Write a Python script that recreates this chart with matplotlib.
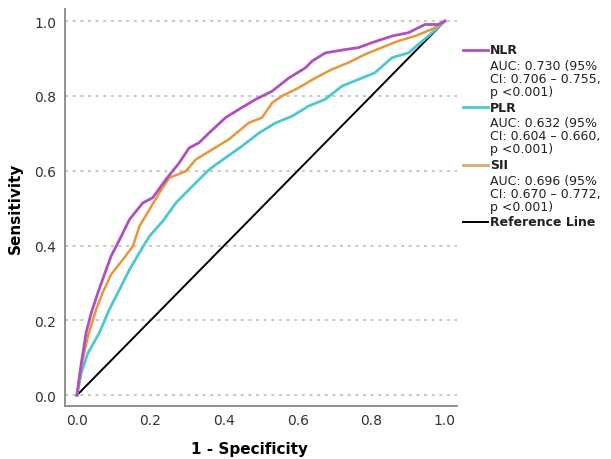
import matplotlib
matplotlib.use("Agg")
import matplotlib.pyplot as plt
from matplotlib.lines import Line2D

# ROC krivky (1 - specificita, senzitivita)
nlr_x = [0, 0.012, 0.025, 0.039, 0.057, 0.07, 0.093, 0.116, 0.143, 0.179, 0.206, 0.242, 0.278,
         0.305, 0.332, 0.359, 0.404, 0.44, 0.486, 0.531, 0.576, 0.621, 0.639, 0.675, 0.729,
         0.765, 0.801, 0.856, 0.901, 0.946, 0.982, 1.0]
nlr_y = [0, 0.086, 0.167, 0.22, 0.274, 0.31, 0.372, 0.416, 0.47, 0.514, 0.528, 0.577, 0.621,
         0.661, 0.675, 0.701, 0.742, 0.764, 0.791, 0.813, 0.848, 0.875, 0.893, 0.915, 0.924,
         0.929, 0.942, 0.96, 0.969, 0.991, 0.991, 1.0]

plr_x = [0, 0.012, 0.03, 0.061, 0.088, 0.116, 0.143, 0.17, 0.197, 0.233, 0.269, 0.314, 0.359,
         0.404, 0.449, 0.495, 0.54, 0.585, 0.63, 0.675, 0.72, 0.765, 0.81, 0.856, 0.901,
         0.928, 0.955, 1.0]
plr_y = [0, 0.06, 0.113, 0.167, 0.229, 0.283, 0.336, 0.381, 0.425, 0.465, 0.514, 0.559, 0.603,
         0.635, 0.666, 0.701, 0.728, 0.746, 0.773, 0.791, 0.826, 0.844, 0.862, 0.902, 0.915,
         0.938, 0.96, 1.0]

sii_x = [0, 0.012, 0.03, 0.052, 0.07, 0.093, 0.125, 0.152, 0.17, 0.197, 0.224, 0.251, 0.296,
         0.323, 0.368, 0.413, 0.467, 0.503, 0.531, 0.558, 0.603, 0.648, 0.693, 0.738, 0.783,
         0.838, 0.874, 0.919, 0.964, 1.0]
sii_y = [0, 0.078, 0.158, 0.229, 0.274, 0.323, 0.363, 0.398, 0.452, 0.496, 0.541, 0.581, 0.599,
         0.63, 0.657, 0.684, 0.728, 0.742, 0.782, 0.8, 0.822, 0.848, 0.871, 0.889, 0.911,
         0.933, 0.947, 0.96, 0.978, 1.0]

ref_x = [0, 1]
ref_y = [0, 1]

nazvy = ["NLR", "PLR", "SII"]
popisky = [["AUC: 0.730 (95%", "CI: 0.706 – 0.755,", "p <0.001)"],
           ["AUC: 0.632 (95%", "CI: 0.604 – 0.660,", "p <0.001)"],
           ["AUC: 0.696 (95%", "CI: 0.670 – 0.772,", "p <0.001)"]]
barvy = ["#b04fc0", "#4cc8d2", "#e8963a"]
barvy_leg = ["#b04fc0", "#4cc8d2", "#d8ad6a"]
tick_vals = [0.0, 0.2, 0.4, 0.6, 0.8, 1.0]

fig = plt.figure(figsize=(6.11, 4.6), dpi=100)
ax = fig.add_axes([0.106, 0.115, 0.642, 0.863])

for y in tick_vals:
    ax.axhline(y, color="#b8b8b8", lw=1.1, ls=(0, (2, 3)), zorder=0)

ax.plot(ref_x, ref_y, color="black", lw=1.4, zorder=2)
ax.plot(plr_x, plr_y, color=barvy[1], lw=2, zorder=3)
ax.plot(sii_x, sii_y, color=barvy[2], lw=1.8, zorder=4)
ax.plot(nlr_x, nlr_y, color=barvy[0], lw=2, zorder=5)

ax.set_xlim(-0.033, 1.033)
ax.set_ylim(-0.029, 1.032)
ax.set_xticks(tick_vals)
ax.set_yticks(tick_vals)
ax.set_xticklabels([f"{v:.1f}" for v in tick_vals])
ax.set_yticklabels([f"{v:.1f}" for v in tick_vals])
ax.tick_params(length=0, labelsize=10, colors="#333333")
ax.tick_params(axis="x", pad=5)
ax.tick_params(axis="y", pad=6)
for s in ["top", "right"]:
    ax.spines[s].set_visible(False)
for s in ["left", "bottom"]:
    ax.spines[s].set_color("#888888")
    ax.spines[s].set_linewidth(1.3)

ax.set_xlabel("1 - Specificity", fontsize=11, fontweight="bold", va="center")
ax.set_ylabel("Sensitivity", fontsize=11, fontweight="bold", va="center")
ax.xaxis.set_label_coords(0.47, -0.108)
ax.yaxis.set_label_coords(-0.125, 0.5)

# legenda vpravo - rucne, aby cara byla u prvniho radku
px = 1 / 460
leg_font = dict(fontsize=9, color="#222222", va="center")
odsazeni = [15.5, 28.5, 41.5]
for i in range(3):
    yy = 1 - (51 + 57.3 * i) * px
    fig.add_artist(Line2D([0.758, 0.799], [yy, yy], color=barvy_leg[i], lw=2,
                          transform=fig.transFigure))
    fig.text(0.802, yy, nazvy[i], fontweight="bold", **leg_font)
    for radek, o in zip(popisky[i], odsazeni):
        fig.text(0.802, yy - o * px, radek, **leg_font)
yy = 1 - (51 + 57.3 * 3) * px
fig.add_artist(Line2D([0.758, 0.799], [yy, yy], color="black", lw=1.4,
                      transform=fig.transFigure))
fig.text(0.802, yy, "Reference Line", fontweight="bold", **leg_font)

fig.savefig("out.png", dpi=100)
